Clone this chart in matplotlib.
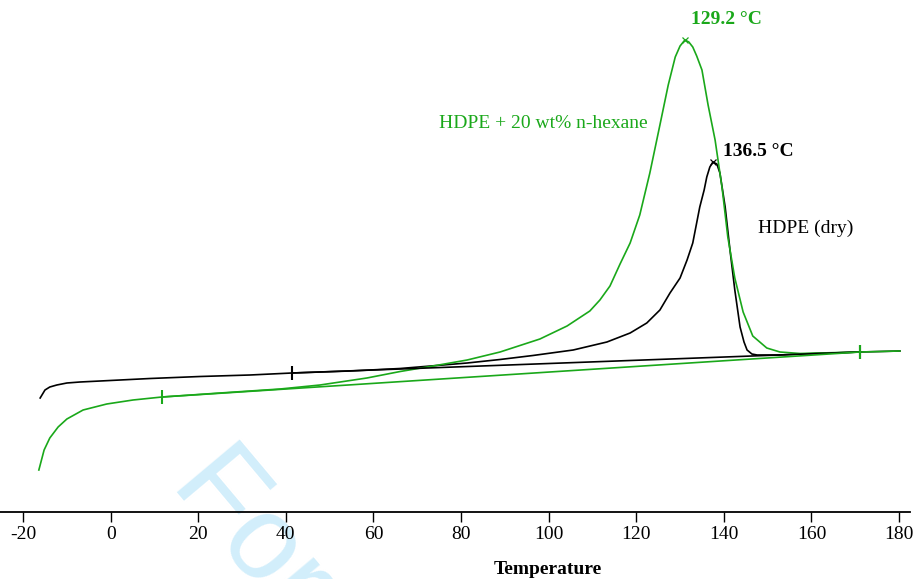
import numpy as np
import matplotlib.pyplot as plt

# --- DSC melting curves (heat flow in arbitrary units, endo up) ---
dry_temp = [-16.1, -15.0, -13.9, -12.3, -10.0, -7.0, -2.4, 9.0, 20.4, 31.8,
            41.4, 54.6, 66.1, 81.4, 88.9, 96.4, 105.6, 113.3, 118.6, 122.4,
            125.4, 127.7, 130.0, 131.6, 132.9, 134.5, 135.5, 136.1, 136.8,
            137.5, 138.4, 139.1, 140.3, 141.4, 142.5, 143.7, 144.6, 145.3,
            146.4, 147.6, 152.8, 157.4, 171.1, 180.2]
dry_heat = [1.14, 1.22, 1.25, 1.27, 1.29, 1.30, 1.31, 1.335, 1.355, 1.37,
            1.39, 1.41, 1.435, 1.49, 1.525, 1.565, 1.62, 1.70, 1.79, 1.89,
            2.02, 2.19, 2.34, 2.52, 2.69, 3.05, 3.22, 3.35, 3.45,
            3.50, 3.48, 3.39, 3.05, 2.62, 2.22, 1.85, 1.70, 1.62,
            1.58, 1.57, 1.57, 1.58, 1.60, 1.61]

hex_temp = [-16.4, -15.2, -13.9, -12.0, -10.0, -6.3, -0.9, 5.1, 11.7, 25.0,
            38.7, 47.8, 58.5, 66.1, 73.6, 81.4, 88.9, 98.0, 104.2, 109.4,
            111.7, 114.0, 116.3, 118.6, 120.8, 123.1, 125.4, 127.3, 128.9,
            130.0, 131.1, 132.0, 132.9, 133.8, 135.0, 136.4, 138.0, 139.6,
            140.9, 142.5, 144.4, 146.6, 149.8, 152.8, 157.4, 171.1, 180.2]
hex_heat = [0.42, 0.62, 0.74, 0.85, 0.93, 1.02, 1.08, 1.12, 1.15, 1.19,
            1.23, 1.27, 1.34, 1.405, 1.46, 1.52, 1.60, 1.73, 1.86, 2.01,
            2.12, 2.26, 2.48, 2.69, 2.97, 3.39, 3.87, 4.27, 4.55,
            4.66, 4.72, 4.70, 4.65, 4.56, 4.42, 4.07, 3.72, 3.24,
            2.75, 2.34, 2.00, 1.76, 1.64, 1.60, 1.585, 1.60, 1.61]

# integration baselines (start / end)
dry_base_t = [41.4, 171.1]
dry_base_h = [1.39, 1.60]
hex_base_t = [11.7, 171.1]
hex_base_h = [1.15, 1.60]

# peak positions
dry_peak = (137.5, 3.50)
hex_peak = (131.1, 4.72)

xticks = list(range(-20, 181, 20))

GREEN = "#1aa81a"
plt.rcParams["font.family"] = ["Liberation Serif", "DejaVu Serif"]

fig = plt.figure(figsize=(9.13, 5.79), dpi=100)
ax = fig.add_axes([0, 67 / 579, 910 / 913, 512 / 579])
ax.patch.set_visible(False)

# watermark
fig.text(0.186, 0.163, "For Peer Review", family="Liberation Sans", fontsize=86,
         color="#d2eefb", rotation=-50, rotation_mode="anchor",
         ha="left", va="baseline", zorder=-1)

ax.plot(dry_temp, dry_heat, color="black", lw=1.2)
ax.plot(hex_temp, hex_heat, color=GREEN, lw=1.2)
ax.plot(dry_base_t, dry_base_h, color="black", lw=1.2, marker="|", ms=10, mew=1.5)
ax.plot(hex_base_t, hex_base_h, color=GREEN, lw=1.2, marker="|", ms=10, mew=1.5)

ax.plot(*dry_peak, marker="x", color="black", ms=5, mew=0.9)
ax.plot(*hex_peak, marker="x", color=GREEN, ms=5, mew=0.9)

ax.text(hex_peak[0] + 1.3, hex_peak[1] + 0.2, "129.2 °C", color=GREEN,
        fontsize=14, fontweight="bold", ha="left", va="center")
ax.text(dry_peak[0] + 2.4, dry_peak[1] + 0.1, "136.5 °C", color="black",
        fontsize=14, fontweight="bold", ha="left", va="center")
ax.text(74.9, 3.89, "HDPE + 20 wt% n-hexane", color=GREEN, fontsize=14,
        ha="left", va="center")
ax.text(147.8, 2.84, "HDPE (dry)", color="black", fontsize=14,
        ha="left", va="center")

ax.set_xlim(-25.27, 182.5)
ax.set_ylim(0, 5.12)
ax.set_xticks(xticks)
ax.set_xticklabels([str(t) for t in xticks], fontsize=14)
ax.set_yticks([])
for s in ["left", "right", "top"]:
    ax.spines[s].set_visible(False)
ax.spines["bottom"].set_linewidth(1.3)
ax.tick_params(axis="x", direction="out", length=7, width=1, pad=3)

fig.text(548 / 913, 1 - 570 / 579, "Temperature", fontsize=14,
         fontweight="bold", ha="center", va="center")

fig.savefig("out.png", dpi=100)
